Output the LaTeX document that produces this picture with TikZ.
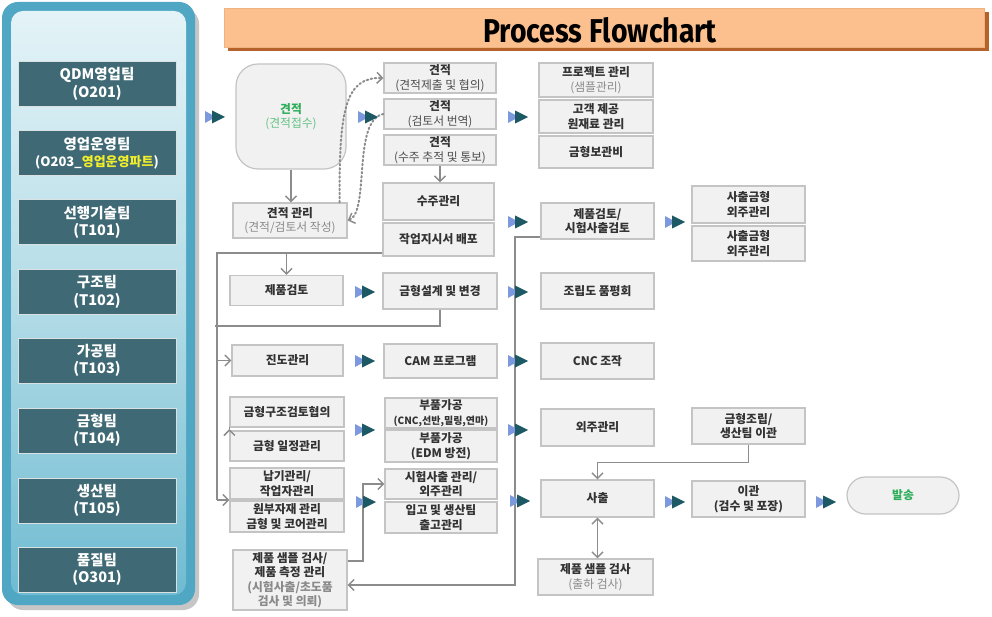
\documentclass[tikz,border=0pt]{standalone}
\usepackage{fontspec}
\usepackage{graphicx}
\setmainfont{Noto Sans CJK KR}
\newfontfamily\titlefont{Fira Sans}
\usetikzlibrary{arrows.meta,calc}
\definecolor{boxfill}{HTML}{F1F1F1}
\definecolor{boxline}{HTML}{C4C4C4}
\definecolor{txt}{HTML}{333333}
\definecolor{subgray}{HTML}{8A8A8A}
\definecolor{midgray}{HTML}{4D4D4D}
\definecolor{conn}{HTML}{8C8C8C}
\definecolor{triL}{HTML}{7D99DD}
\definecolor{triD}{HTML}{1D5964}
\definecolor{teamfill}{HTML}{3F6A75}
\definecolor{panelB}{HTML}{4FA7C3}
\definecolor{panelTop}{HTML}{E4F3F7}
\definecolor{panelMid}{HTML}{B3DCE7}
\definecolor{panelBot}{HTML}{6FBBD1}
\definecolor{hdr}{HTML}{FBC08E}
\definecolor{hdrsh}{HTML}{B5622B}
\definecolor{grn}{HTML}{2EAE5A}
\definecolor{ylw}{HTML}{F2EE2A}
\newcommand\subg[1]{{\mdseries\color{subgray}#1}}
\newcommand\subm[1]{{\mdseries\color{midgray}#1}}
\begin{document}
\begin{tikzpicture}[x=1pt,y=-1pt,
  box/.style={draw=boxline,fill=boxfill,line width=1.2pt,align=center,
    font=\fontsize{11.8}{14.5}\selectfont\bfseries,text=txt,inner sep=0pt},
  team/.style={draw=white!80!teamfill,line width=1pt,fill=teamfill,
    minimum width=158,minimum height=45,align=center,text=white,
    font=\fontsize{14.5}{17.5}\selectfont\bfseries,inner sep=0pt},
  cn/.style={draw=conn,line width=1.6pt},
  barb/.style={-{Straight Barb[length=5.5pt,width=11pt,line width=1.5pt]}},
  dotc/.style={draw=conn,line width=2pt,dash pattern=on 1.5pt off 2.6pt,line cap=round},
  dtri/.pic={
    \fill[triL] (-10,-6) -- (1,0) -- (-10,6) -- cycle;
    \fill[triD] (-3,-6.5) -- (10,0) -- (-3,6.5) -- cycle;}
]
\fill[white] (0,0) rectangle (992,617);
\useasboundingbox (0,0) rectangle (992,617);

% ---------- left panel ----------
\fill[gray!45,rounded corners=16] (7,8) rectangle (199,610);
\fill[panelB,rounded corners=16] (2,2) rectangle (195,605);
\shade[top color=panelTop,bottom color=panelBot,middle color=panelMid,rounded corners=12] (11,11) rectangle (186,595);

\node[team] (t1) at (97,84) {QDM영업팀\\(O201)};
\node[team] (t2) at (97,153) {영업운영팀\\{\fontsize{13}{16}\selectfont(O203\_{\color{ylw}영업운영파트})}};
\node[team] (t3) at (97,222.5) {선행기술팀\\(T101)};
\node[team] (t4) at (97,292) {구조팀\\(T102)};
\node[team] (t5) at (97,360.5) {가공팀\\(T103)};
\node[team] (t6) at (97,430.5) {금형팀\\(T104)};
\node[team] (t7) at (97,500.5) {생산팀\\(T105)};
\node[team] (t8) at (97,569.5) {품질팀\\(O301)};

% ---------- header ----------
\fill[hdrsh] (228,12) rectangle (989,51);
\node[draw=hdr!85!hdrsh,fill=hdr,line width=0.8pt,minimum width=760,minimum height=39,anchor=north west] (hdr) at (224,8) {};
\node (title) at (600,30) {\titlefont\bfseries\fontsize{33}{33}\selectfont\scalebox{0.86}[1]{Process Flowchart}};

% ---------- boxes ----------
\node[box,rounded corners=22,minimum width=110,minimum height=105,text=grn] (blob) at (291,116.5) {견적\\{\mdseries\color{grn!75}(견적접수)}};
\node[box,minimum width=114,minimum height=35] (jg) at (290,220.5) {견적 관리\\\subg{(견적/검토서 작성)}};
\node[box,minimum width=112,minimum height=30] (e1) at (440,78) {견적\\\subm{(견적제출 및 협의)}};
\node[box,minimum width=112,minimum height=30] (e2) at (440,114) {견적\\\subm{(검토서 번역)}};
\node[box,minimum width=112,minimum height=30] (e3) at (440,150) {견적\\\subm{(수주 추적 및 통보)}};
\node[box,minimum width=111,minimum height=37] (sj) at (438.5,201.5) {수주관리};
\node[box,minimum width=111,minimum height=33] (wo) at (438.5,239.5) {작업지시서 배포};

\node[box,minimum width=114,minimum height=34] (p1) at (596,80) {프로젝트 관리\\\subg{(샘플관리)}};
\node[box,minimum width=114,minimum height=33] (p2) at (596,116.5) {고객 제공\\원재료 관리};
\node[box,minimum width=114,minimum height=32] (p3) at (596,152) {금형보관비};
\node[box,minimum width=113,minimum height=36] (r1) at (597.5,221) {제품검토/\\시험사출검토};
\node[box,minimum width=113,minimum height=37] (s1) at (748.5,204.5) {사출금형\\외주관리};
\node[box,minimum width=113,minimum height=35] (s2) at (748.5,243.5) {사출금형\\외주관리};

\node[box,minimum width=113,minimum height=30] (pk) at (286.5,290.5) {제품검토};
\node[box,minimum width=114,minimum height=36] (gd) at (440,291) {금형설계 및 변경};
\node[box,minimum width=113,minimum height=36] (jr) at (597.5,291) {조립도 품평회};

\node[box,minimum width=111,minimum height=31] (jd) at (287.5,360.5) {진도관리};
\node[box,minimum width=113,minimum height=34] (cam) at (440.5,361) {CAM 프로그램};
\node[box,minimum width=113,minimum height=36] (cnc) at (597.5,361) {CNC 조작};

\node[box,minimum width=114,minimum height=30] (gk) at (287,412) {금형구조검토협의};
\node[box,minimum width=114,minimum height=30] (gi) at (287,446) {금형 일정관리};
\node[box,minimum width=112,minimum height=30] (b1) at (441,413) {부품가공\\{\fontsize{10}{12}\selectfont(CNC,선반,밀링,연마)}};
\node[box,minimum width=112,minimum height=32] (b2) at (441,446) {부품가공\\(EDM 방전)};
\node[box,minimum width=113,minimum height=37] (ow) at (597.5,427.5) {외주관리};
\node[box,minimum width=113,minimum height=36] (ga) at (748.5,426) {금형조립/\\생산팀 이관};

\node[box,minimum width=114,minimum height=31] (nk) at (287,483.5) {납기관리/\\작업자관리};
\node[box,minimum width=114,minimum height=31] (wb) at (287,516.5) {원부자재 관리\\금형 및 코어관리};
\node[box,minimum width=112,minimum height=30] (sc) at (441,484) {시험사출 관리/\\외주관리};
\node[box,minimum width=112,minimum height=31] (ig) at (441,517.5) {입고 및 생산팀\\출고관리};
\node[box,minimum width=113,minimum height=37] (so) at (597.5,498.5) {사출};
\node[box,minimum width=113,minimum height=36] (ik) at (748.5,499) {이관\\(검수 및 포장)};
\node[box,rounded corners=18.5,minimum width=112,minimum height=37,text=grn] (bs) at (903,495.5) {발송};

\node[box,minimum width=114,minimum height=60] (qc1) at (290,580) {제품 샘플 검사/\\제품 측정 관리\\\color{subgray}(시험사출/초도품\\\color{subgray}검사 및 의뢰)};
\node[box,minimum width=115,minimum height=36] (qc2) at (595.5,577) {제품 샘플 검사\\\subg{(출하 검사)}};

% ---------- connectors ----------
\draw[cn,barb] (blob.south) -- (blob.south |- jg.north);
\draw[cn,barb] (e3.south) -- (e3.south |- sj.north);
\draw[dotc,barb] ([xshift=-8pt]jg.north east) .. controls (339,110) and (345,77) .. (e1.west);
\draw[dotc,barb] (e2.west) .. controls (352,120) and (370,212) .. (jg.east);

\coordinate (vtop) at (217,253);
\coordinate (vbot) at (217,500);
\draw[cn] ([yshift=-13.5pt]wo.west) -- (vtop) -- (vbot);
\draw[cn,barb] (pk.north) ++(0,-22.5) -- (pk.north);
\draw[cn,barb] (jd.west -| vtop) -- (jd.west);
\draw[cn,barb] ($(gk.south west)!0.5!(gi.north west)$ -| vtop) -- ($(gk.south west)!0.5!(gi.north west)$);
\draw[cn,barb] (vbot) -- ($(nk.south west)!0.5!(wb.north west)$);
\draw[cn] (gd.south) |- (215,326);

\draw[cn,barb] ([yshift=-16pt]r1.west) -| (515,585) -- ([yshift=-5pt]qc1.east);
\draw[cn,barb] ([yshift=19pt]qc1.east) -| (363,484) -- (sc.west);
\draw[cn,barb] (ga.south) -- ++(0,18) -| (so.north);
\draw[cn,{Straight Barb[length=5.5pt,width=11pt,line width=1.5pt]}-{Straight Barb[length=5.5pt,width=11pt,line width=1.5pt]}] (so.south) -- (so.south |- qc2.north);

% ---------- flow markers ----------
\foreach \p in {(215,117),(368,117),(518,117),(518,222),(675,222),
  (365,292),(518,292),(365,361),(518,361),(365,430),(518,430),
  (366,502),(520,501),(675,502),(826,502)}
  \pic at \p {dtri};
\end{tikzpicture}
\end{document}
